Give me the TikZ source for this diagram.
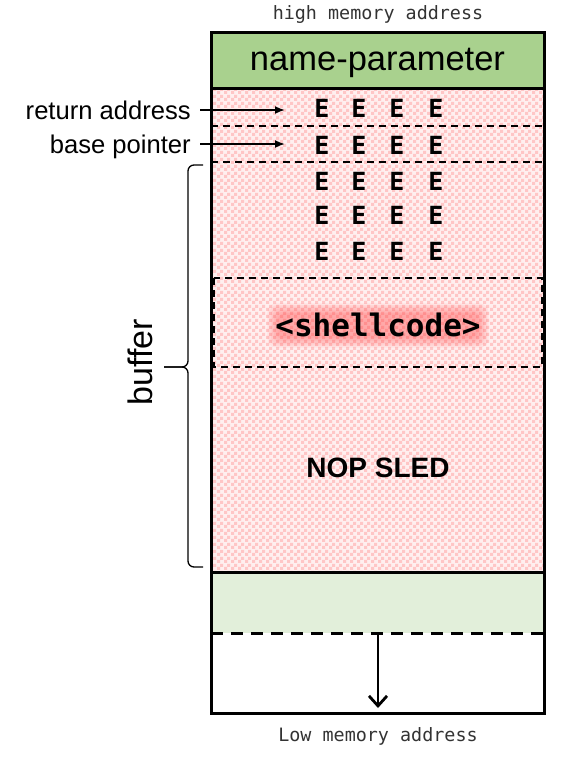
\documentclass[tikz,border=0pt]{standalone}
\usepackage{fontspec}
\setmainfont{Liberation Sans}
\newfontfamily\codefont{DejaVu Sans Mono}
\usetikzlibrary{arrows.meta,patterns}
\definecolor{headgreen}{HTML}{A9D18E}
\definecolor{lowgreen}{HTML}{E2EFDA}
\definecolor{bufpink}{HTML}{FFEFEF}
\definecolor{checkpink}{HTML}{FFC6C6}
\definecolor{glowred}{HTML}{FF3C3C}
\definecolor{addrgray}{HTML}{333333}
\pgfdeclarepatternformonly{pinkcheck}{\pgfpointorigin}{\pgfqpoint{7pt}{7pt}}{\pgfqpoint{7pt}{7pt}}{%
  \pgfpathrectangle{\pgfpointorigin}{\pgfqpoint{3.5pt}{3.5pt}}%
  \pgfpathrectangle{\pgfqpoint{3.5pt}{3.5pt}}{\pgfqpoint{3.5pt}{3.5pt}}%
  \pgfusepath{fill}}
\begin{document}
\begin{tikzpicture}[x=1pt,y=-1pt,
  every node/.style={inner sep=0pt},
  slotline/.style={line width=1.6pt,dash pattern=on 7pt off 5pt},
  pointer/.style={-{Latex[length=10pt,width=8pt]},line width=1.8pt},
  sidelabel/.style={anchor=east,text height=18.5pt,text depth=0pt,font=\fontsize{25.6}{26}\selectfont},
  ebyte/.style={font=\codefont\bfseries\fontsize{25}{25}\selectfont},
  addr/.style={text=addrgray,font=\codefont\fontsize{18.4}{19}\selectfont}]
\useasboundingbox (0,0) rectangle (569,766);
% regions of the stack
\fill[bufpink] (211,88) rectangle (544,572);
\fill[pattern=pinkcheck,pattern color=checkpink] (211,88) rectangle (544,572);
\fill[lowgreen] (211,572) rectangle (544,633);
\node[fill=headgreen,minimum width=333pt,minimum height=56pt] (head) at (377.5,60) {};
\node[font=\fontsize{34.5}{35}\selectfont] (headtxt) at (377.5,63) {name-parameter};
\draw[slotline] (211,126) -- (544,126);
\draw[slotline] (211,162) -- (544,162);
\draw[slotline] (214,278) rectangle (542,367);
\draw[line width=3pt] (211,88) -- (544,88);
\draw[line width=3pt] (211,572) -- (544,572);
\draw[line width=3pt,dash pattern=on 12pt off 8pt] (211,633) -- (544,633);
\draw[line width=3pt] (211,32) rectangle (544,713);
% overwritten bytes
\foreach \r/\y in {0/108,1/145,2/181,3/215,4/251}
  \foreach \c/\x in {0/322,1/359,2/397,3/436}
    \node[ebyte] (e\r\c) at (\x,\y) {E};
% shellcode with glow
\foreach \i in {0,...,6}
  \fill[glowred,opacity=.065,rounded corners=9pt] (277-1.6*\i,313-1.6*\i) rectangle (479+1.6*\i,338+1.6*\i);
\node[font=\codefont\bfseries\fontsize{31}{31}\selectfont] (shell) at (378,325) {<shellcode>};
\node[font=\bfseries\fontsize{28}{28}\selectfont] (nop) at (378,468) {NOP SLED};
% labels and pointers
\node[sidelabel] (ret) at (191,110) {return address};
\node[sidelabel] (bp) at (191,144) {base pointer};
\coordinate (rettip) at (285,110);
\coordinate (bptip) at (285,144);
\draw[pointer] ([xshift=9pt]ret.east) -- (rettip);
\draw[pointer] ([xshift=9pt]bp.east) -- (bptip);
\coordinate (buftop) at (203,165);
\coordinate (bufbot) at (203,567);
\coordinate (bufmid) at (164,367);
\draw[line width=1.3pt,rounded corners=6pt] (buftop) -- (188,165) -- (188,367) -- (bufmid);
\draw[line width=1.3pt,rounded corners=6pt] (bufbot) -- (188,567) -- (188,367) -- (bufmid);
\node[rotate=90,font=\fontsize{34}{34}\selectfont] (buf) at (140,362) {buffer};
% growth direction
\coordinate (sptop) at (378,635);
\coordinate (spbot) at (378,708);
\draw[line width=2.8pt,-{Straight Barb[length=10pt,width=18pt]}] (sptop) -- (spbot);
\node[addr] (high) at (378,14) {high memory address};
\node[addr] (low) at (378,736) {Low memory address};
\end{tikzpicture}
\end{document}
